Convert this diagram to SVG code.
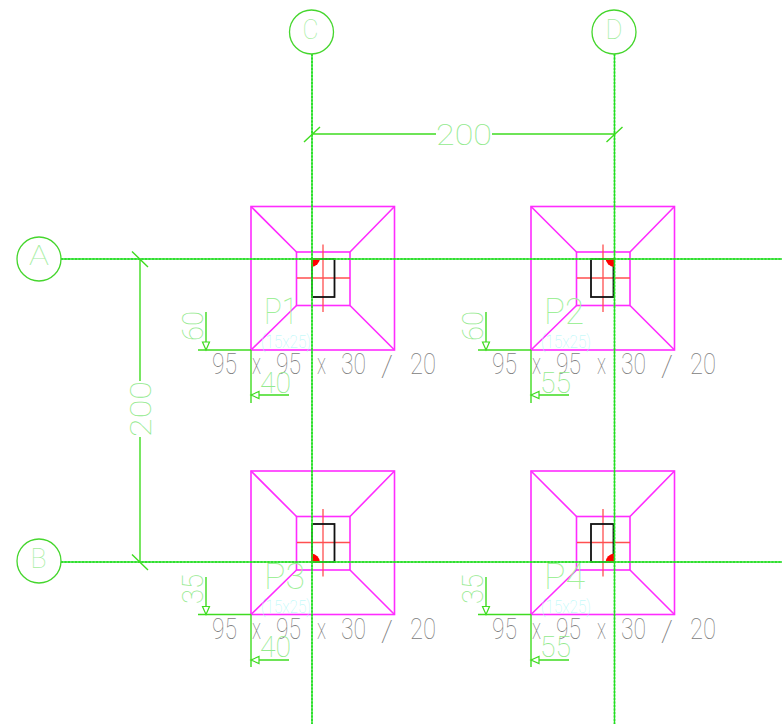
<svg xmlns="http://www.w3.org/2000/svg" width="782" height="724" viewBox="0 0 782 724">
<style>
text{font-family:Roboto,"Liberation Sans",sans-serif;font-weight:100;text-anchor:start}
.g{fill:#93ea8e;font-size:30px}
.p{fill:#a0f09a;font-size:36px}
.k{fill:#808080;font-size:29px}
.c{fill:#b0f8f8;font-size:19px}
.b{fill:#a5ee9f;font-size:28px}
.ax{stroke:#2fdc2f;stroke-width:1.4;fill:none}
.axd{stroke:#1fe01f;stroke-width:1.6;stroke-dasharray:2 1.5;fill:none}
.dim{stroke:#3fdc20;stroke-width:1.4;fill:none}
.ar{stroke:#3fdc20;stroke-width:1.2;fill:#fff}
.bub{stroke:#45d62d;stroke-width:1.3;fill:#fff}
.m{stroke:#ff2cff;stroke-width:1.6;fill:none}
.r{stroke:#ff5050;stroke-width:1.3;fill:none}
.blk{stroke:#111;stroke-width:1.8;fill:none}
.q{fill:#f00}
</style>
<defs>
<g id="ped">
<rect class="m" x="251" y="206.500" width="143.500" height="143.500"/>
<rect class="m" x="296.500" y="252" width="53.500" height="53.500"/>
<path class="m" d="M251 206.500L296.500 252M394.500 206.500L350 252M251 350L296.500 305.500M394.500 350L350 305.500"/>
<path class="r" d="M297 278H350M323 244.500V312"/>
</g>
<path id="arv" class="ar" d="M206 350l-3.500-8h7z"/>
<path id="arh" class="ar" d="M251 395l8-3.500v7z"/>
</defs>

<g id="P1">
<use href="#ped"/>
<rect class="blk" x="312" y="259" width="22.500" height="38"/>
<path class="q" d="M311 258h9a9 9 0 0 1-9 9z"/>
<text class="p" x="264" y="324" textLength="34" lengthAdjust="spacingAndGlyphs">P1</text>
<text class="c" x="261" y="348" textLength="50" lengthAdjust="spacingAndGlyphs">(15x25)</text>
<text class="k" x="212" y="374" textLength="25" lengthAdjust="spacingAndGlyphs">95</text>
<text class="k" x="252" y="374" textLength="9" lengthAdjust="spacingAndGlyphs">x</text>
<text class="k" x="276" y="374" textLength="25" lengthAdjust="spacingAndGlyphs">95</text>
<text class="k" x="317" y="374" textLength="9" lengthAdjust="spacingAndGlyphs">x</text>
<text class="k" x="341" y="374" textLength="25" lengthAdjust="spacingAndGlyphs">30</text>
<text class="k" x="381" y="376" textLength="12" lengthAdjust="spacingAndGlyphs">/</text>
<text class="k" x="410" y="374" textLength="26" lengthAdjust="spacingAndGlyphs">20</text>
</g>
<g id="P2" transform="translate(280 0)">
<use href="#ped"/>
<rect class="blk" x="311" y="259" width="22.500" height="38"/>
<path class="q" d="M334.500 258h-9a9 9 0 0 0 9 9z"/>
<text class="p" x="264" y="324" textLength="40" lengthAdjust="spacingAndGlyphs">P2</text>
<text class="c" x="261" y="348" textLength="50" lengthAdjust="spacingAndGlyphs">(15x25)</text>
<text class="k" x="212" y="374" textLength="25" lengthAdjust="spacingAndGlyphs">95</text>
<text class="k" x="252" y="374" textLength="9" lengthAdjust="spacingAndGlyphs">x</text>
<text class="k" x="276" y="374" textLength="25" lengthAdjust="spacingAndGlyphs">95</text>
<text class="k" x="317" y="374" textLength="9" lengthAdjust="spacingAndGlyphs">x</text>
<text class="k" x="341" y="374" textLength="25" lengthAdjust="spacingAndGlyphs">30</text>
<text class="k" x="381" y="376" textLength="12" lengthAdjust="spacingAndGlyphs">/</text>
<text class="k" x="410" y="374" textLength="26" lengthAdjust="spacingAndGlyphs">20</text>
</g>
<g id="P3" transform="translate(0 264.500)">
<use href="#ped"/>
<rect class="blk" x="312" y="259.500" width="22.500" height="38"/>
<path class="q" d="M311 298h9a9 9 0 0 0-9-9z"/>
<text class="p" x="264" y="324" textLength="41" lengthAdjust="spacingAndGlyphs">P3</text>
<text class="c" x="261" y="348" textLength="50" lengthAdjust="spacingAndGlyphs">(15x25)</text>
<text class="k" x="212" y="374" textLength="25" lengthAdjust="spacingAndGlyphs">95</text>
<text class="k" x="252" y="374" textLength="9" lengthAdjust="spacingAndGlyphs">x</text>
<text class="k" x="276" y="374" textLength="25" lengthAdjust="spacingAndGlyphs">95</text>
<text class="k" x="317" y="374" textLength="9" lengthAdjust="spacingAndGlyphs">x</text>
<text class="k" x="341" y="374" textLength="25" lengthAdjust="spacingAndGlyphs">30</text>
<text class="k" x="381" y="376" textLength="12" lengthAdjust="spacingAndGlyphs">/</text>
<text class="k" x="410" y="374" textLength="26" lengthAdjust="spacingAndGlyphs">20</text>
</g>
<g id="P4" transform="translate(280 264.500)">
<use href="#ped"/>
<rect class="blk" x="311" y="259.500" width="22.500" height="38"/>
<path class="q" d="M334.500 298h-9a9 9 0 0 1 9-9z"/>
<text class="p" x="264" y="324" textLength="41" lengthAdjust="spacingAndGlyphs">P4</text>
<text class="c" x="261" y="348" textLength="50" lengthAdjust="spacingAndGlyphs">(15x25)</text>
<text class="k" x="212" y="374" textLength="25" lengthAdjust="spacingAndGlyphs">95</text>
<text class="k" x="252" y="374" textLength="9" lengthAdjust="spacingAndGlyphs">x</text>
<text class="k" x="276" y="374" textLength="25" lengthAdjust="spacingAndGlyphs">95</text>
<text class="k" x="317" y="374" textLength="9" lengthAdjust="spacingAndGlyphs">x</text>
<text class="k" x="341" y="374" textLength="25" lengthAdjust="spacingAndGlyphs">30</text>
<text class="k" x="381" y="376" textLength="12" lengthAdjust="spacingAndGlyphs">/</text>
<text class="k" x="410" y="374" textLength="26" lengthAdjust="spacingAndGlyphs">20</text>
</g>

<g id="connectors">
<path class="ax" d="M312 54V724M614.500 54V724M61 259H782M61 562H782"/>
<path class="axd" d="M312 54V724M614.500 54V724M61 259H782M61 562H782"/>
<path class="dim" d="M312 134H436M492 134H614.500M304 142L320 127M606.500 142L622.500 127"/>
<path class="dim" d="M140 259V381M140 437V562M132 251.500L148 267M132 554.500L148 570"/>
<path class="dim" d="M198 350H251M206 312V350M251 350V403M251 395H289"/><use href="#arv"/><use href="#arh"/>
<path class="dim" d="M478 350H531M486 312V350M531 350V403M531 395H569"/><use href="#arv" x="280"/><use href="#arh" x="280"/>
<path class="dim" d="M198 614.500H251M206 577V614.500M251 614.500V667M251 660H289"/><use href="#arv" y="264.500"/><use href="#arh" y="265"/>
<path class="dim" d="M478 614.500H531M486 577V614.500M531 614.500V667M531 660H569"/><use href="#arv" x="280" y="264.500"/><use href="#arh" x="280" y="265"/>
</g>

<g id="dimension-labels">
<text class="g" x="436" y="145" textLength="56" lengthAdjust="spacingAndGlyphs">200</text>
<text class="g" transform="translate(151 437) rotate(-90)" textLength="56" lengthAdjust="spacingAndGlyphs">200</text>
<text class="g" transform="translate(203 341) rotate(-90)" textLength="30" lengthAdjust="spacingAndGlyphs">60</text>
<text class="g" transform="translate(483 341) rotate(-90)" textLength="30" lengthAdjust="spacingAndGlyphs">60</text>
<text class="g" transform="translate(203 604) rotate(-90)" textLength="30" lengthAdjust="spacingAndGlyphs">35</text>
<text class="g" transform="translate(483 604) rotate(-90)" textLength="30" lengthAdjust="spacingAndGlyphs">35</text>
<text class="g" x="260" y="393" textLength="31" lengthAdjust="spacingAndGlyphs">40</text>
<text class="g" x="540" y="393" textLength="31" lengthAdjust="spacingAndGlyphs">55</text>
<text class="g" x="260" y="657" textLength="31" lengthAdjust="spacingAndGlyphs">40</text>
<text class="g" x="540" y="657" textLength="31" lengthAdjust="spacingAndGlyphs">55</text>
</g>

<g id="axis-C"><circle class="bub" cx="311.500" cy="32" r="22"/><text class="b" x="302.500" y="39" textLength="16" lengthAdjust="spacingAndGlyphs">C</text></g>
<g id="axis-D"><circle class="bub" cx="614" cy="32" r="22"/><text class="b" x="605.500" y="39" textLength="17" lengthAdjust="spacingAndGlyphs">D</text></g>
<g id="axis-A"><circle class="bub" cx="39" cy="259" r="22"/><text class="b" x="29" y="265" textLength="20" lengthAdjust="spacingAndGlyphs">A</text></g>
<g id="axis-B"><circle class="bub" cx="39" cy="561" r="22"/><text class="b" x="30.500" y="568" textLength="16" lengthAdjust="spacingAndGlyphs">B</text></g>
</svg>
